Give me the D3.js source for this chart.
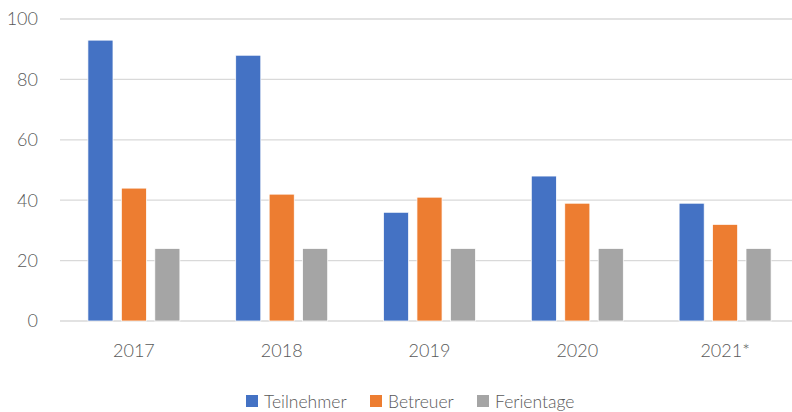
<!DOCTYPE html>
<html lang="de">
<head>
<meta charset="UTF-8">
<title>Teilnehmer</title>
<script src="https://d3js.org/d3.v7.min.js"></script>
<style>
  body { margin: 0; background: #fff; }
  text { font-family: Lato, "Open Sans", sans-serif; font-weight: 300; fill: #595959; }
</style>
</head>
<body>
<svg id="chart" width="792" height="412"></svg>
<script>
const years = ["2017", "2018", "2019", "2020", "2021*"];
const seriesNames = ["Teilnehmer", "Betreuer", "Ferientage"];
const teilnehmer = [93, 88, 36, 48, 39];
const betreuer = [44, 42, 41, 39, 32];
const ferientage = [24, 24, 24, 24, 24];
const yTicks = [0, 20, 40, 60, 80, 100];
const colors = ["#4472c4", "#ed7d31", "#a5a5a5"];

const values = [teilnehmer, betreuer, ferientage];
const data = years.map((yr, i) => ({year: yr, vals: values.map(v => v[i])}));

const svg = d3.select("#chart");
const plot = {left: 60, right: 799, top: 19, bottom: 321};

const x = d3.scaleBand().domain(years).range([plot.left, plot.right]);
const y = d3.scaleLinear().domain([0, 100]).range([plot.bottom, plot.top]);
const xs = d3.scaleBand().domain(d3.range(3)).range([0, 92]).paddingInner(0.25);

// grid
svg.append("g").selectAll("line")
  .data(yTicks)
  .join("line")
  .attr("x1", plot.left).attr("x2", 792)
  .attr("y1", d => y(d)).attr("y2", d => y(d))
  .attr("stroke", "#d9d9d9").attr("stroke-width", 1.3);

// y tick labels
svg.append("g").selectAll("text")
  .data(yTicks)
  .join("text")
  .attr("x", 38).attr("y", d => y(d))
  .attr("text-anchor", "end").attr("dy", "0.35em")
  .style("font-size", "18px")
  .text(d => d);

// bars
const groups = svg.append("g").selectAll("g")
  .data(data)
  .join("g")
  .attr("transform", d => `translate(${x(d.year) + x.bandwidth() / 2 - 46},0)`);

groups.selectAll("rect")
  .data(d => d.vals.map((v, k) => ({v, k})))
  .join("rect")
  .attr("x", d => xs(d.k))
  .attr("width", xs.bandwidth())
  .attr("y", d => y(d.v))
  .attr("height", d => y(0) - y(d.v))
  .attr("fill", d => colors[d.k])
  .attr("stroke", "#fff").attr("stroke-width", 0.75);

// category labels
svg.append("g").selectAll("text")
  .data(years)
  .join("text")
  .attr("x", d => x(d) + x.bandwidth() / 2)
  .attr("y", 357)
  .attr("text-anchor", "middle")
  .style("font-size", "18px")
  .text(d => d);

// legend
const legendX = [246, 370, 477];
const legend = svg.append("g").selectAll("g")
  .data(seriesNames)
  .join("g")
  .attr("transform", (d, i) => `translate(${legendX[i]},395)`);
legend.append("rect").attr("width", 12).attr("height", 12).attr("fill", (d, i) => colors[i]);
legend.append("text").attr("x", 18).attr("y", 12.5).style("font-size", "17.5px").text(d => d);
</script>
</body>
</html>
